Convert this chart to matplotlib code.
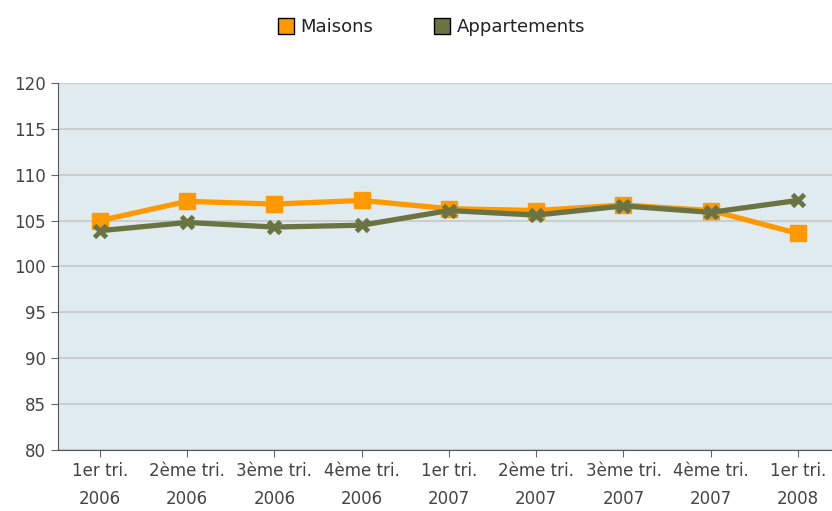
import matplotlib.pyplot as plt
import matplotlib as mpl

quarters = ["1er tri.\n2006", "2ème tri.\n2006", "3ème tri.\n2006", "4ème tri.\n2006",
            "1er tri.\n2007", "2ème tri.\n2007", "3ème tri.\n2007", "4ème tri.\n2007",
            "1er tri.\n2008"]
maisons = [105.0, 107.1, 106.8, 107.2, 106.3, 106.1, 106.7, 106.1, 103.6]
appartements = [103.9, 104.8, 104.3, 104.5, 106.1, 105.6, 106.6, 105.9, 107.2]

mpl.rcParams['font.family'] = ['DejaVu Sans']
mpl.rcParams['font.size'] = 12

fig = plt.figure(figsize=(8.32, 5.11), dpi=100)
ax = fig.add_axes([0.0697, 0.1194, 0.9303, 0.7182])
ax.set_facecolor("#e0ebf0")

x = list(range(len(quarters)))
ax.plot(x, maisons, color="#ff9900", lw=3.8, marker="s", ms=11, label="Maisons", zorder=3)
ax.plot(x, appartements, color="#6b7343", lw=3.8, marker="x", ms=9, mew=3.5,
        label="Appartements", zorder=4)

ax.set_ylim(80, 120)
ax.set_yticks(range(80, 121, 5))
ax.set_xlim(-0.48, 8.39)
ax.set_xticks(x)
ax.set_xticklabels(quarters, linespacing=1.75)
ax.yaxis.grid(True, color="#c4c8c8", lw=1.2)
ax.set_axisbelow(True)
for s in ["top", "right"]:
    ax.spines[s].set_visible(False)
for s in ["left", "bottom"]:
    ax.spines[s].set_color("#555555")
ax.tick_params(colors="#444444", labelsize=12)
ax.tick_params(axis="both", color="#666666", length=5)

h1 = mpl.lines.Line2D([], [], ls="none", marker="s", ms=12, mfc="#ff9900", mec="black", mew=1)
h2 = mpl.lines.Line2D([], [], ls="none", marker="s", ms=12, mfc="#6b7343", mec="black", mew=1)
fig.legend([h1, h2], ["Maisons", "Appartements"], loc="center", bbox_to_anchor=(0.518, 0.947),
           ncol=2, frameon=False, fontsize=13, handletextpad=0.3, columnspacing=3.3,
           handlelength=1.0, labelcolor="#222222")

plt.savefig("out.png", dpi=100)
